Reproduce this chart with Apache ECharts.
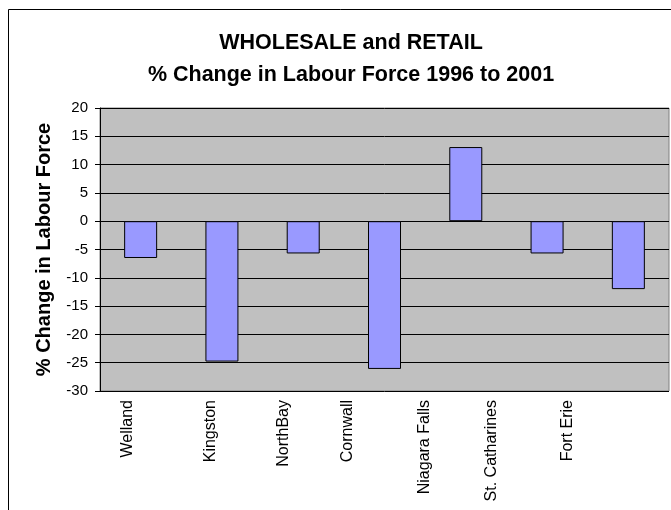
<!DOCTYPE html>
<html>
<head>
<meta charset="utf-8">
<script src="https://cdn.jsdelivr.net/npm/echarts@6/dist/echarts.min.js"></script>
<style>
  html, body { margin: 0; padding: 0; background: #fff; }
  #chart { width: 671px; height: 510px; }
</style>
</head>
<body>
<div id="chart"></div>
<script>
var cities = ['Welland', 'Kingston', 'NorthBay', 'Cornwall', 'Niagara Falls', 'St. Catharines', 'Fort Erie'];
var changes = [-6.5, -24.8, -5.7, -26.1, 13.1, -5.7, -12.0];

// the original's rotated labels sit left of their bars; nudge them the same way (px)
var labelNudge = [13, 11, 20, 37, 41, 55, 61];
var labelRich = {};
labelNudge.forEach(function (d, i) {
  labelRich['c' + i] = { fontSize: 16, color: '#000', padding: [0, 0, d * 2, 0] };
});

var chart = echarts.init(document.getElementById('chart'));
chart.setOption({
  animation: false,
  backgroundColor: '#fff',
  textStyle: { fontFamily: 'Liberation Sans, Arial, sans-serif' },
  title: {
    text: 'WHOLESALE and RETAIL\n% Change in Labour Force 1996 to 2001',
    left: 346,
    textAlign: 'center',
    top: 22,
    textStyle: { fontSize: 21.5, fontWeight: 'bold', color: '#000', lineHeight: 32 }
  },
  graphic: [{
    type: 'rect',
    shape: { x: 8.5, y: 9.5, width: 700, height: 600 },
    style: { fill: 'none', stroke: '#000', lineWidth: 1 },
    silent: true
  }],
  grid: {
    left: 100, right: 2, top: 108, bottom: 119,
    show: true, backgroundColor: '#C0C0C0', borderColor: '#808080', borderWidth: 1
  },
  xAxis: {
    type: 'category',
    data: cities,
    axisLine: { show: false },
    axisTick: { show: false },
    axisLabel: {
      rotate: 90, margin: 9, fontSize: 16, color: '#000', interval: 0,
      formatter: function (v, i) { return '{c' + i + '|' + v + '}'; },
      rich: labelRich
    }
  },
  yAxis: {
    type: 'value',
    min: -30, max: 20, interval: 5,
    name: '% Change in Labour Force',
    nameLocation: 'middle',
    nameGap: 46,
    nameTextStyle: { fontSize: 20, fontWeight: 'bold', color: '#000' },
    axisLine: { show: true, lineStyle: { color: '#000', width: 1 } },
    axisTick: { show: true, length: 5, lineStyle: { color: '#000' } },
    axisLabel: { fontSize: 15, color: '#000', margin: 12 },
    splitLine: { lineStyle: { color: '#000', width: 1 } }
  },
  series: [{
    type: 'bar',
    data: changes,
    barWidth: 33,
    itemStyle: { color: '#9999FF', borderColor: '#000', borderWidth: 1 }
  }]
});
</script>
</body>
</html>
